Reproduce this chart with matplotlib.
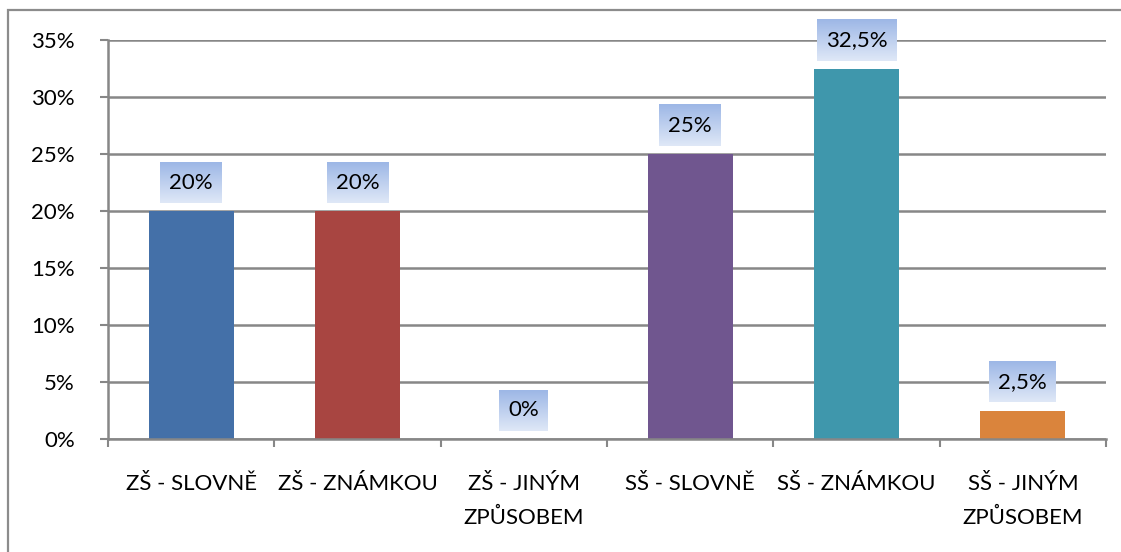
import matplotlib
matplotlib.use("Agg")
import matplotlib.pyplot as plt
import numpy as np
from matplotlib.patches import Rectangle

categories = ["ZŠ - SLOVNĚ", "ZŠ - ZNÁMKOU", "ZŠ - JINÝM\nZPŮSOBEM",
              "SŠ - SLOVNĚ", "SŠ - ZNÁMKOU", "SŠ - JINÝM\nZPŮSOBEM"]
values = [20, 20, 0, 25, 32.5, 2.5]
value_labels = ["20%", "20%", "0%", "25%", "32,5%", "2,5%"]
bar_colors = ["#4470A8", "#A84541", "#4470A8", "#70568F", "#3F97AC", "#DA843C"]
y_ticks = [0, 5, 10, 15, 20, 25, 30, 35]
y_tick_labels = ["0%", "5%", "10%", "15%", "20%", "25%", "30%", "35%"]

plt.rcParams["font.family"] = ["Lato", "DejaVu Sans"]
W, H, DPI = 1121, 552, 100
fig = plt.figure(figsize=(W / DPI, H / DPI), dpi=DPI)
fig.patch.set_facecolor("white")

grid_col = "#878787"
fs = 16

# outer frame of the chart object
fig.add_artist(Rectangle((8 / W, -0.1), 1.2, 1 - 10 / H + 0.1,
                         transform=fig.transFigure, fill=False,
                         edgecolor="#8c8c8c", linewidth=1.6))

ax = fig.add_axes([108 / W, 1 - 439 / H, (1106 - 108) / W, (439 - 40) / H])
x = np.arange(len(categories))
ax.bar(x, values, width=0.51, color=bar_colors, zorder=3)

ax.set_xlim(-0.5, len(categories) - 0.5)
ax.set_ylim(0, 35)
ax.set_yticks(y_ticks)
ax.set_yticklabels(y_tick_labels, fontsize=fs)
ax.set_xticks(x)
ax.set_xticklabels(categories, fontsize=fs, linespacing=1.9)
ax.set_xticks(np.arange(-0.5, len(categories)), minor=True)

ax.tick_params(axis="y", direction="out", length=6, width=1.5, color=grid_col, pad=18)
ax.tick_params(axis="x", which="major", length=0, pad=25)
ax.tick_params(axis="x", which="minor", direction="out", length=6, width=1.5, color=grid_col)

for s in ["top", "right"]:
    ax.spines[s].set_visible(False)
for s in ["left", "bottom"]:
    ax.spines[s].set_color(grid_col)
    ax.spines[s].set_linewidth(1.8)
    ax.spines[s].set_zorder(4)

ax.yaxis.grid(True, color=grid_col, linewidth=1.8)
ax.set_axisbelow(True)

# value labels with gradient boxes
fig.canvas.draw()
renderer = fig.canvas.get_renderer()
grad = np.linspace(0, 1, 64).reshape(-1, 1)
top = np.array([157, 183, 230]) / 255
bot = np.array([223, 232, 247]) / 255
img = top[None, None, :] * (1 - grad[:, :, None]) + bot[None, None, :] * grad[:, :, None]

to_data = ax.transData.inverted()
for xi, v, lab in zip(x, values, value_labels):
    bar_top_px = ax.transData.transform((xi, v))[1]
    cy_px = bar_top_px + 8 + 20.5
    cx_px = ax.transData.transform((xi, 0))[0]
    t = ax.text(xi, to_data.transform((cx_px, cy_px))[1], lab, ha="center", va="center",
                fontsize=fs, color="black", zorder=6, clip_on=False)
    bb = t.get_window_extent(renderer)
    half_w = bb.width / 2 + 9
    x0, y0 = to_data.transform((cx_px - half_w, cy_px - 20.5))
    x1, y1 = to_data.transform((cx_px + half_w, cy_px + 20.5))
    im = ax.imshow(img, extent=(x0, x1, y0, y1), aspect="auto", zorder=5,
                   interpolation="bilinear")
    im.set_clip_on(False)

ax.set_xlim(-0.5, len(categories) - 0.5)
ax.set_ylim(0, 35)

fig.savefig("out.png", dpi=DPI, facecolor="white")
